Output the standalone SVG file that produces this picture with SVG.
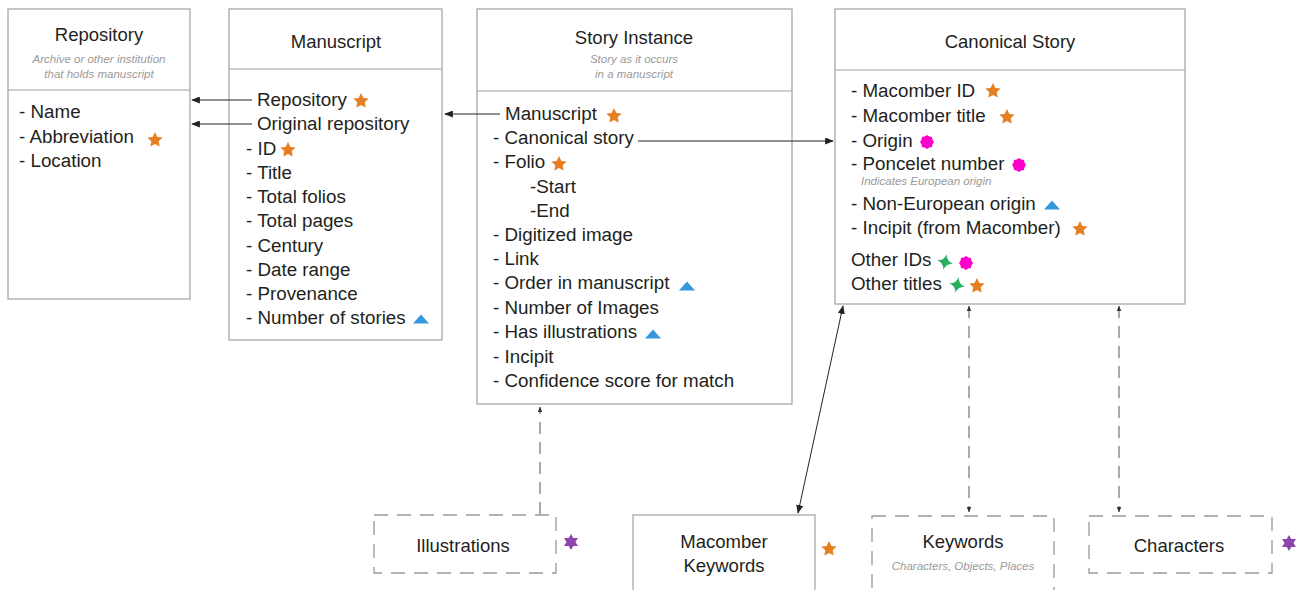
<svg xmlns="http://www.w3.org/2000/svg" xmlns:xlink="http://www.w3.org/1999/xlink" width="1305" height="590" viewBox="0 0 1305 590">
<style>
  .box{fill:#fff;stroke:#a0a0a0;stroke-width:1.2}
  .dbox{fill:#fff;stroke:#999;stroke-width:1.3;stroke-dasharray:14 9}
  .div{stroke:#a0a0a0;stroke-width:1.2}
  .title{font-family:"Liberation Sans",Arial,sans-serif;font-size:18.5px;fill:#231f20;text-anchor:middle}
  .sub{font-family:"Liberation Sans",Arial,sans-serif;font-size:11.5px;font-style:italic;fill:#9a9a9a;text-anchor:middle}
  .item{font-family:"Liberation Sans",Arial,sans-serif;font-size:18.8px;fill:#231f20}
  .note{font-family:"Liberation Sans",Arial,sans-serif;font-size:11.5px;font-style:italic;fill:#9a9a9a}
  .con{stroke:#222;stroke-width:1;fill:none}
  .dcon{stroke:#555;stroke-width:1;fill:none;stroke-dasharray:12 8}
</style>
<defs>
  <marker id="ah" viewBox="0 0 10 8" refX="9" refY="4" markerWidth="9" markerHeight="7" markerUnits="userSpaceOnUse" orient="auto-start-reverse">
    <path d="M0,0 L10,4 L0,8 z" fill="#222"/>
  </marker>
  <marker id="ahs" viewBox="0 0 10 8" refX="9" refY="4" markerWidth="6" markerHeight="5" markerUnits="userSpaceOnUse" orient="auto-start-reverse">
    <path d="M0,0 L10,4 L0,8 z" fill="#333"/>
  </marker>
  <polygon id="st5" fill="#e67e22" points="0,-8 2.4,-3 7.6,-2.5 3.7,1.2 4.7,6.5 0,3.9 -4.7,6.5 -3.7,1.2 -7.6,-2.5 -2.4,-3"/>
  <polygon id="st6" fill="#8e44ad" points="0,-8 2.25,-3.9 6.93,-4 4.5,0 6.93,4 2.25,3.9 0,8 -2.25,3.9 -6.93,4 -4.5,0 -6.93,-4 -2.25,-3.9"/>
  <polygon id="blob" fill="#ff00cc" points="7,0 5.54,2.3 4.95,4.95 2.3,5.54 0,7 -2.3,5.54 -4.95,4.95 -5.54,2.3 -7,0 -5.54,-2.3 -4.95,-4.95 -2.3,-5.54 0,-7 2.3,-5.54 4.95,-4.95 5.54,-2.3"/>
  <path id="st4" fill="#27ae60" d="M0,-8 Q1.2,-1.2 8,0 Q1.2,1.2 0,8 Q-1.2,1.2 -8,0 Q-1.2,-1.2 0,-8 Z" transform="rotate(12)"/>
  <polygon id="tri" fill="#3498db" points="-8,4.5 8,4.5 0,-4.5"/>
</defs>

<g id="repository">
  <rect class="box" x="8" y="9" width="182" height="290"/>
  <line class="div" x1="8" y1="90" x2="190" y2="90"/>
  <text class="title" x="99" y="41">Repository</text>
  <text class="sub" x="99" y="63">Archive or other institution</text>
  <text class="sub" x="99" y="78">that holds manuscript</text>
  <text class="item" x="19" y="118">- Name</text>
  <text class="item" x="19" y="143">- Abbreviation</text>
  <text class="item" x="19" y="167">- Location</text>
  <use href="#st5" x="155" y="140"/>
</g>

<g id="manuscript">
  <rect class="box" x="229" y="9" width="213" height="331"/>
  <line class="div" x1="229" y1="69" x2="442" y2="69"/>
  <text class="title" x="336" y="48">Manuscript</text>
  <text class="item" x="257" y="106">Repository</text>
  <text class="item" x="257" y="130">Original repository</text>
  <text class="item" x="246" y="155">- ID</text>
  <text class="item" x="246" y="179">- Title</text>
  <text class="item" x="246" y="203">- Total folios</text>
  <text class="item" x="246" y="227">- Total pages</text>
  <text class="item" x="246" y="252">- Century</text>
  <text class="item" x="246" y="276">- Date range</text>
  <text class="item" x="246" y="300">- Provenance</text>
  <text class="item" x="246" y="324">- Number of stories</text>
  <use href="#st5" x="361" y="101"/>
  <use href="#st5" x="288" y="150"/>
  <use href="#tri" x="421" y="319"/>
</g>

<g id="story-instance">
  <rect class="box" x="477" y="9" width="315" height="395"/>
  <line class="div" x1="477" y1="91" x2="792" y2="91"/>
  <text class="title" x="634" y="44">Story Instance</text>
  <text class="sub" x="634" y="63">Story as it occurs</text>
  <text class="sub" x="634" y="78">in a manuscript</text>
  <text class="item" x="505" y="120">Manuscript</text>
  <text class="item" x="493" y="144">- Canonical story</text>
  <text class="item" x="493" y="168">- Folio</text>
  <text class="item" x="530" y="193">-Start</text>
  <text class="item" x="530" y="217">-End</text>
  <text class="item" x="493" y="241">- Digitized image</text>
  <text class="item" x="493" y="265">- Link</text>
  <text class="item" x="493" y="289">- Order in manuscript</text>
  <text class="item" x="493" y="314">- Number of Images</text>
  <text class="item" x="493" y="338">- Has illustrations</text>
  <text class="item" x="493" y="363">- Incipit</text>
  <text class="item" x="493" y="387">- Confidence score for match</text>
  <use href="#st5" x="614" y="116"/>
  <use href="#st5" x="559" y="164"/>
  <use href="#tri" x="687" y="286"/>
  <use href="#tri" x="653" y="334"/>
</g>

<g id="canonical-story">
  <rect class="box" x="835" y="9" width="350" height="295"/>
  <line class="div" x1="835" y1="70" x2="1185" y2="70"/>
  <text class="title" x="1010" y="48">Canonical Story</text>
  <text class="item" x="851" y="97">- Macomber ID</text>
  <text class="item" x="851" y="122">- Macomber title</text>
  <text class="item" x="851" y="147">- Origin</text>
  <text class="item" x="851" y="170">- Poncelet number</text>
  <text class="note" x="861" y="185">Indicates European origin</text>
  <text class="item" x="851" y="210">- Non-European origin</text>
  <text class="item" x="851" y="234">- Incipit (from Macomber)</text>
  <text class="item" x="851" y="266">Other IDs</text>
  <text class="item" x="851" y="290">Other titles</text>
  <use href="#st5" x="993" y="91"/>
  <use href="#st5" x="1007" y="117"/>
  <use href="#blob" x="927" y="142"/>
  <use href="#blob" x="1019" y="165"/>
  <use href="#tri" x="1052" y="205"/>
  <use href="#st5" x="1080" y="229"/>
  <use href="#st4" x="945" y="262"/>
  <use href="#blob" x="966" y="263"/>
  <use href="#st4" x="957" y="285"/>
  <use href="#st5" x="977" y="286"/>
</g>

<g id="illustrations">
  <rect class="dbox" x="374" y="515" width="182" height="58"/>
  <text class="title" x="463" y="552">Illustrations</text>
  <use href="#st6" x="571" y="542"/>
</g>

<g id="macomber-keywords">
  <rect class="box" x="633" y="515" width="182" height="85"/>
  <text class="title" x="724" y="548">Macomber</text>
  <text class="title" x="724" y="572">Keywords</text>
  <use href="#st5" x="829" y="549"/>
</g>

<g id="keywords">
  <rect class="dbox" x="872" y="516" width="182" height="84"/>
  <text class="title" x="963" y="548">Keywords</text>
  <text class="sub" x="963" y="570">Characters, Objects, Places</text>
</g>

<g id="characters">
  <rect class="dbox" x="1089" y="516" width="183" height="57"/>
  <text class="title" x="1179" y="552">Characters</text>
  <use href="#st6" x="1289" y="543"/>
</g>

<g id="connectors">
  <line class="con" x1="252" y1="100" x2="192" y2="100" marker-end="url(#ah)"/>
  <line class="con" x1="252" y1="124" x2="192" y2="124" marker-end="url(#ah)"/>
  <line class="con" x1="500" y1="114" x2="445" y2="114" marker-end="url(#ah)"/>
  <line class="con" x1="638" y1="141" x2="833" y2="141" marker-end="url(#ah)"/>
  <line class="con" x1="843" y1="306" x2="798" y2="513" marker-start="url(#ah)" marker-end="url(#ah)"/>
  <line class="dcon" x1="540" y1="514" x2="540" y2="407" marker-end="url(#ahs)"/>
  <line class="dcon" x1="969" y1="306" x2="969" y2="512" marker-start="url(#ahs)" marker-end="url(#ahs)"/>
  <line class="dcon" x1="1119" y1="306" x2="1119" y2="512" marker-start="url(#ahs)" marker-end="url(#ahs)"/>
</g>
</svg>
